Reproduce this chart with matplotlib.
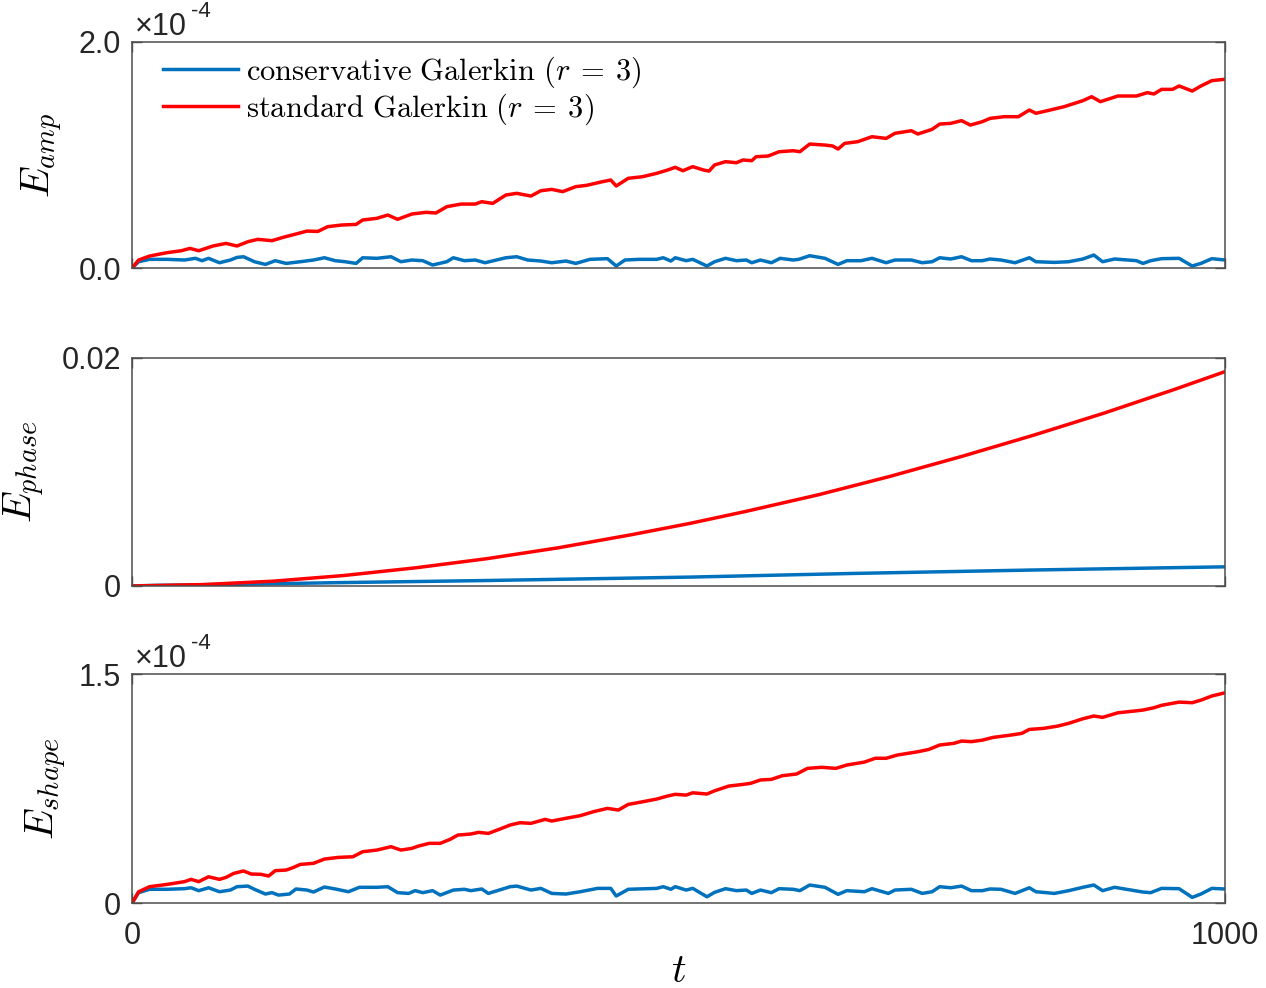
import matplotlib
matplotlib.use("Agg")
import matplotlib.pyplot as plt
import numpy as np
from matplotlib.font_manager import FontProperties

plt.rcParams["font.family"] = ["Liberation Sans", "DejaVu Sans"]
plt.rcParams["mathtext.fontset"] = "cm"

BLUE = "#0072BD"
RED = "#FF0000"
GREY = "#262626"

# ---- E_amp (units of 1e-4) ----
t_amp_std = [0, 6, 16, 32, 45, 53, 61, 74, 86, 96, 106, 115, 128, 138, 150, 160, 170, 179,
             192, 205, 211, 224, 234, 243, 256, 269, 278, 288, 301, 314, 320, 330, 342, 352,
             365, 374, 384, 394, 406, 416, 429, 438, 443, 454, 467, 480, 490, 497, 504, 513,
             523, 528, 533, 543, 553, 559, 567, 571, 582, 592, 605, 611, 620, 634, 641, 646,
             652, 664, 677, 690, 698, 713, 719, 732, 739, 749, 759, 767, 778, 785, 798, 811,
             821, 827, 840, 853, 870, 878, 886, 902, 919, 929, 935, 942, 952, 958, 970, 978,
             988, 1000]
amp_std = [0.0, 0.071, 0.106, 0.136, 0.153, 0.174, 0.153, 0.195, 0.218, 0.195, 0.233, 0.254,
           0.242, 0.271, 0.301, 0.327, 0.324, 0.366, 0.381, 0.386, 0.425, 0.440, 0.469, 0.431,
           0.478, 0.493, 0.487, 0.543, 0.566, 0.566, 0.587, 0.572, 0.646, 0.661, 0.637, 0.684,
           0.696, 0.676, 0.720, 0.732, 0.761, 0.779, 0.726, 0.794, 0.808, 0.838, 0.867, 0.891,
           0.861, 0.897, 0.867, 0.858, 0.912, 0.941, 0.932, 0.956, 0.950, 0.985, 0.991, 1.029,
           1.038, 1.029, 1.097, 1.088, 1.080, 1.053, 1.103, 1.118, 1.162, 1.147, 1.192, 1.215,
           1.186, 1.227, 1.274, 1.280, 1.304, 1.265, 1.295, 1.324, 1.339, 1.339, 1.398, 1.369,
           1.398, 1.428, 1.481, 1.516, 1.472, 1.522, 1.522, 1.552, 1.540, 1.581, 1.581, 1.611,
           1.566, 1.611, 1.658, 1.670]

t_amp_cons = [0, 6, 16, 32, 48, 58, 64, 70, 80, 90, 96, 102, 112, 122, 131, 141, 154, 166,
              176, 186, 195, 205, 211, 224, 237, 246, 256, 266, 275, 288, 294, 304, 314, 323,
              336, 342, 352, 362, 374, 384, 397, 406, 419, 435, 443, 451, 464, 480, 486, 493,
              497, 507, 513, 526, 533, 543, 553, 562, 567, 575, 585, 593, 605, 610, 620, 634,
              646, 654, 667, 677, 690, 698, 713, 723, 732, 739, 749, 759, 768, 778, 785, 795,
              808, 821, 827, 844, 857, 870, 880, 888, 899, 919, 925, 932, 942, 958, 970, 978,
              988, 1000]
amp_cons = [0.0, 0.056, 0.077, 0.077, 0.071, 0.086, 0.065, 0.086, 0.047, 0.071, 0.094, 0.100,
            0.056, 0.032, 0.065, 0.041, 0.056, 0.071, 0.091, 0.065, 0.056, 0.041, 0.091, 0.086,
            0.100, 0.056, 0.071, 0.065, 0.027, 0.056, 0.091, 0.065, 0.071, 0.047, 0.077, 0.091,
            0.100, 0.071, 0.062, 0.047, 0.062, 0.041, 0.077, 0.083, 0.018, 0.071, 0.077, 0.077,
            0.091, 0.062, 0.091, 0.065, 0.077, 0.018, 0.056, 0.086, 0.065, 0.071, 0.047, 0.071,
            0.047, 0.086, 0.071, 0.077, 0.109, 0.086, 0.032, 0.065, 0.065, 0.086, 0.047, 0.071,
            0.071, 0.047, 0.056, 0.091, 0.080, 0.100, 0.065, 0.065, 0.080, 0.071, 0.047, 0.091,
            0.056, 0.050, 0.056, 0.080, 0.115, 0.056, 0.080, 0.065, 0.041, 0.065, 0.083, 0.086,
            0.018, 0.041, 0.083, 0.071]

# ---- E_phase ----
t_phase_std = [0, 64, 129, 194, 260, 325, 390, 456, 511, 562, 628, 693, 759, 824, 889, 955, 1000]
phase_std = [0.0, 0.00012, 0.00042, 0.00092, 0.0016, 0.0024, 0.00335, 0.00448, 0.0055, 0.00655,
             0.0080, 0.0096, 0.01136, 0.0132, 0.01515, 0.01728, 0.0188]

t_phase_cons = [0, 20, 96, 194, 325, 511, 660, 824, 1000]
phase_cons = [0.0, 0.00005, 0.00015, 0.0003, 0.00048, 0.00078, 0.0011, 0.0014, 0.00168]

# ---- E_shape (units of 1e-4) ----
t_shape_std = [0, 6, 16, 32, 48, 54, 61, 70, 80, 86, 93, 102, 109, 118, 125, 131, 141, 147,
               154, 166, 176, 189, 202, 211, 224, 237, 246, 256, 262, 272, 282, 291, 298, 310,
               317, 326, 336, 346, 355, 365, 378, 384, 397, 410, 422, 435, 445, 454, 467, 480,
               490, 497, 507, 513, 526, 533, 546, 559, 566, 575, 585, 595, 608, 618, 631, 644,
               654, 670, 680, 690, 700, 719, 729, 739, 752, 759, 768, 778, 788, 804, 814, 821,
               834, 847, 857, 870, 880, 888, 902, 919, 925, 935, 942, 958, 970, 978, 988, 1000]
shape_std = [0.0, 0.074, 0.107, 0.122, 0.140, 0.155, 0.140, 0.172, 0.155, 0.168, 0.194, 0.210,
             0.190, 0.188, 0.177, 0.212, 0.216, 0.231, 0.253, 0.260, 0.288, 0.299, 0.303, 0.336,
             0.347, 0.369, 0.347, 0.358, 0.373, 0.391, 0.391, 0.417, 0.445, 0.452, 0.463, 0.456,
             0.483, 0.511, 0.526, 0.522, 0.548, 0.537, 0.555, 0.572, 0.598, 0.620, 0.609, 0.646,
             0.663, 0.681, 0.701, 0.712, 0.707, 0.722, 0.714, 0.735, 0.766, 0.777, 0.784, 0.806,
             0.810, 0.834, 0.845, 0.882, 0.889, 0.882, 0.904, 0.923, 0.948, 0.948, 0.969, 0.991,
             1.006, 1.035, 1.046, 1.061, 1.057, 1.067, 1.085, 1.100, 1.111, 1.137, 1.144, 1.159,
             1.177, 1.207, 1.225, 1.216, 1.246, 1.259, 1.264, 1.279, 1.295, 1.316, 1.312, 1.329,
             1.356, 1.377]

t_shape_cons = [0, 6, 16, 32, 48, 54, 61, 70, 80, 90, 96, 106, 112, 122, 128, 134, 144, 150,
                160, 166, 176, 186, 198, 208, 224, 234, 243, 253, 259, 266, 275, 282, 294, 304,
                310, 320, 326, 336, 346, 352, 365, 374, 384, 397, 410, 426, 438, 443, 454, 480,
                486, 493, 497, 507, 513, 526, 533, 543, 553, 562, 567, 575, 585, 592, 605, 611,
                620, 634, 646, 654, 670, 677, 692, 698, 713, 723, 732, 739, 749, 759, 768, 778,
                785, 795, 808, 821, 827, 844, 857, 870, 880, 888, 899, 919, 925, 932, 942, 958,
                970, 978, 988, 1000]
shape_cons = [0.0, 0.068, 0.090, 0.090, 0.094, 0.100, 0.081, 0.100, 0.074, 0.085, 0.107, 0.111,
              0.090, 0.059, 0.068, 0.052, 0.059, 0.092, 0.085, 0.072, 0.105, 0.092, 0.074, 0.103,
              0.103, 0.107, 0.068, 0.063, 0.081, 0.068, 0.081, 0.052, 0.085, 0.090, 0.081, 0.092,
              0.063, 0.085, 0.107, 0.111, 0.085, 0.096, 0.063, 0.059, 0.074, 0.096, 0.096, 0.046,
              0.090, 0.096, 0.107, 0.090, 0.107, 0.085, 0.096, 0.041, 0.070, 0.094, 0.081, 0.085,
              0.063, 0.085, 0.068, 0.094, 0.090, 0.081, 0.118, 0.103, 0.057, 0.081, 0.074, 0.094,
              0.063, 0.085, 0.090, 0.063, 0.074, 0.107, 0.100, 0.111, 0.081, 0.081, 0.092, 0.090,
              0.063, 0.100, 0.074, 0.063, 0.081, 0.103, 0.118, 0.081, 0.103, 0.079, 0.072, 0.068,
              0.096, 0.094, 0.037, 0.059, 0.096, 0.092]

labels = [r"$\mathrm{conservative\ Galerkin}\ (r\:=\:3)$",
          r"$\mathrm{standard\ Galerkin}\ (r\:=\:3)$"]

fig = plt.figure(figsize=(12.66, 9.88), dpi=100)
left, width = 0.1043, 0.8633
ax1 = fig.add_axes([left, 0.7287, width, 0.2288])
ax2 = fig.add_axes([left, 0.4069, width, 0.2308])
ax3 = fig.add_axes([left, 0.0860, width, 0.2318])

LW = 2.5
ax1.plot(t_amp_cons, amp_cons, color=BLUE, lw=LW, label=labels[0])
ax1.plot(t_amp_std, amp_std, color=RED, lw=LW, label=labels[1])
ax2.plot(t_phase_cons, phase_cons, color=BLUE, lw=LW)
ax2.plot(t_phase_std, phase_std, color=RED, lw=LW)
ax3.plot(t_shape_cons, shape_cons, color=BLUE, lw=LW)
ax3.plot(t_shape_std, shape_std, color=RED, lw=LW)

ax1.set_ylim(0, 2)
ax1.set_yticks([0, 2])
ax1.set_yticklabels(["0.0", "2.0"])
ax2.set_ylim(0, 0.02)
ax2.set_yticks([0, 0.02])
ax2.set_yticklabels(["0", "0.02"])
ax3.set_ylim(0, 1.5)
ax3.set_yticks([0, 1.5])
ax3.set_yticklabels(["0", "1.5"])

for ax in (ax1, ax2, ax3):
    ax.set_xlim(0, 1000)
    ax.set_xticks([0, 1000])
    ax.tick_params(direction="in", length=7, width=1.0, color="#4d4d4d", labelcolor=GREY,
                   labelsize=22, top=True, right=True)
    ax.tick_params(axis="y", pad=8)
    ax.tick_params(axis="x", pad=13)
    for s in ax.spines.values():
        s.set_color("#4d4d4d")
        s.set_linewidth(1.1)
ax1.set_xticklabels([])
ax2.set_xticklabels([])
ax3.set_xticklabels(["0", "1000"])

# exponent labels, MATLAB style
for ax in (ax1, ax3):
    ax.text(0.003, 1.03, "\u00d710", transform=ax.transAxes, fontsize=22, color=GREY,
            ha="left", va="baseline")
    ax.text(0.054, 1.11, "-4", transform=ax.transAxes, fontsize=16, color=GREY,
            ha="left", va="baseline")

ax1.set_ylabel(r"$E_{amp}$", fontsize=29)
ax2.set_ylabel(r"$E_{phase}$", fontsize=29)
ax3.set_ylabel(r"$E_{shape}$", fontsize=29)
ax1.yaxis.set_label_coords(-0.061, 0.5)
ax2.yaxis.set_label_coords(-0.078, 0.5)
ax3.yaxis.set_label_coords(-0.058, 0.5)
ax3.set_xlabel(r"$t$", fontsize=29)
ax3.xaxis.set_label_coords(0.5, -0.215)

ax1.legend(loc="upper left", bbox_to_anchor=(0.0284, 0.945), frameon=False,
           prop=FontProperties(size=22), handlelength=2.45, labelspacing=0.05,
           borderaxespad=0, borderpad=0, handletextpad=0.28)

fig.savefig("out.png", dpi=100)
